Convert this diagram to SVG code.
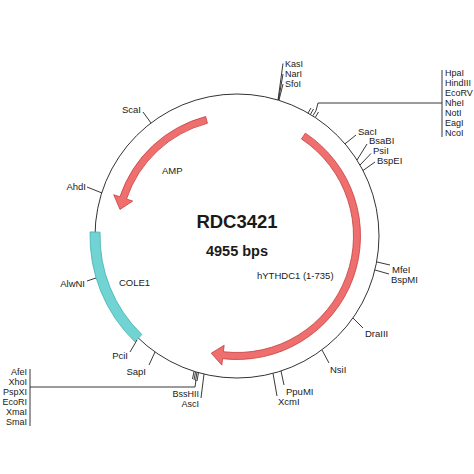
<svg xmlns="http://www.w3.org/2000/svg" width="474" height="474" viewBox="0 0 474 474">
<style>
text{font-family:"Liberation Sans",Arial,sans-serif;fill:#1a1a1a}
.s{font-size:9.5px}
.g{font-size:9px}
.e{text-anchor:end}
.ld{stroke:#222;stroke-width:0.9;fill:none}
.red{fill:#ef6e6e;stroke:#c43f3f;stroke-width:0.8}
.cy{fill:#72d3d3;stroke:#3fb0b0;stroke-width:0.8}
</style>
<rect width="474" height="474" fill="#fff"/>
<g id="backbone"><circle cx="237" cy="236" r="142" fill="none" stroke="#333" stroke-width="1"/></g>
<g id="COLE1">
<path class="cy" d="M90.06,231.9 A147,147 0 0 0 134.88,341.74 L141.83,334.54 A137,137 0 0 1 100.05,232.18 Z"/>
<text class="s" x="119" y="285.5">COLE1</text>
</g>
<g id="hYTHDC1">
<path class="red" d="M305.35,133.14 A123.5,123.5 0 0 1 222.59,358.66 L221.83,365.12 L211.23,353.2 L224.16,345.25 L223.4,351.71 A116.5,116.5 0 0 0 301.47,138.97 Z"/>
<text class="s" x="257" y="278.5">hYTHDC1 (1-735)</text>
</g>
<g id="AMP">
<path class="red" d="M205.66,116.54 A123.5,123.5 0 0 0 119.88,196.81 L113.72,194.75 L119.99,209.42 L132.69,201.1 L126.52,199.04 A116.5,116.5 0 0 1 207.43,123.31 Z"/>
<text class="s" x="162" y="173.5">AMP</text>
</g>
<g id="title">
<text x="237" y="228" text-anchor="middle" font-size="18.5" font-weight="bold">RDC3421</text>
<text x="237" y="256" text-anchor="middle" font-size="14.5" font-weight="bold">4955 bps</text>
</g>
<g id="connectors">
<path class="ld" d="M278,100 L283,63.5 M278.5,100 L283,74 M279,100 L283,84"/>
<path class="ld" d="M308,113 L311,108 M310.5,114.2 L313.5,109 M313,115.6 L316,110.6 M315.5,117 L318.5,112 M316,110.6 L318,103 L442,103 M442,70 L442,137"/>
<path class="ld" d="M345,143.8 L356,135"/>
<path class="ld" d="M357,160 L367,144"/>
<path class="ld" d="M360,165 L371,153.5"/>
<path class="ld" d="M363,170.5 L375,162"/>
<path class="ld" d="M377,262 L390,265"/>
<path class="ld" d="M375,270 L389,274"/>
<path class="ld" d="M353,318 L363,328"/>
<path class="ld" d="M322,350 L329,363"/>
<path class="ld" d="M281,371 L284,385"/>
<path class="ld" d="M273,373.4 L277,396"/>
<path class="ld" d="M204,374 L201,398"/>
<path class="ld" d="M194,371.5 L192.5,379 M195.5,372 L194,380 M197,372.3 L195.5,381 M198.5,372.6 L197,381 M196,380 L195,387 L30,387 M30,369 L30,426"/>
<path class="ld" d="M155,352 L149,365"/>
<path class="ld" d="M137,340 L130,352"/>
<path class="ld" d="M96,278 L87,281"/>
<path class="ld" d="M102,193 L87,187"/>
<path class="ld" d="M151,123 L143,112"/>
</g>
<g id="site-KasI"><text class="g" x="285" y="67.2">KasI</text></g>
<g id="site-NarI"><text class="g" x="285" y="77.2">NarI</text></g>
<g id="site-SfoI"><text class="g" x="285" y="87.2">SfoI</text></g>
<g id="site-group-HpaI">
<text class="g" x="445" y="76.2">HpaI</text>
<text class="g" x="445" y="86.2">HindIII</text>
<text class="g" x="445" y="96.2">EcoRV</text>
<text class="g" x="445" y="106.2">NheI</text>
<text class="g" x="445" y="116.2">NotI</text>
<text class="g" x="445" y="126.2">EagI</text>
<text class="g" x="445" y="136.2">NcoI</text>
</g>
<g id="site-SacI"><text class="s" x="358" y="134.5">SacI</text></g>
<g id="site-BsaBI"><text class="s" x="369" y="143.5">BsaBI</text></g>
<g id="site-PsiI"><text class="s" x="373" y="153.5">PsiI</text></g>
<g id="site-BspEI"><text class="s" x="377" y="163.5">BspEI</text></g>
<g id="site-MfeI"><text class="s" x="392" y="272.5">MfeI</text></g>
<g id="site-BspMI"><text class="s" x="391" y="282.5">BspMI</text></g>
<g id="site-DraIII"><text class="s" x="365" y="336.5">DraIII</text></g>
<g id="site-NsiI"><text class="s" x="330" y="372.5">NsiI</text></g>
<g id="site-PpuMI"><text class="s" x="286" y="395">PpuMI</text></g>
<g id="site-XcmI"><text class="s" x="278" y="405">XcmI</text></g>
<g id="site-BssHII"><text class="g e" x="199" y="396.7">BssHII</text></g>
<g id="site-AscI"><text class="g e" x="199" y="406.7">AscI</text></g>
<g id="site-group-AfeI">
<text class="g e" x="27" y="375.2">AfeI</text>
<text class="g e" x="27" y="385.2">XhoI</text>
<text class="g e" x="27" y="395.2">PspXI</text>
<text class="g e" x="27" y="405.2">EcoRI</text>
<text class="g e" x="27" y="415.2">XmaI</text>
<text class="g e" x="27" y="425.2">SmaI</text>
</g>
<g id="site-SapI"><text class="s e" x="146" y="374.5">SapI</text></g>
<g id="site-PciI"><text class="s e" x="128" y="359">PciI</text></g>
<g id="site-AlwNI"><text class="s e" x="85" y="286.5">AlwNI</text></g>
<g id="site-AhdI"><text class="s e" x="86" y="189.5">AhdI</text></g>
<g id="site-ScaI"><text class="s e" x="141" y="112.5">ScaI</text></g>
</svg>
